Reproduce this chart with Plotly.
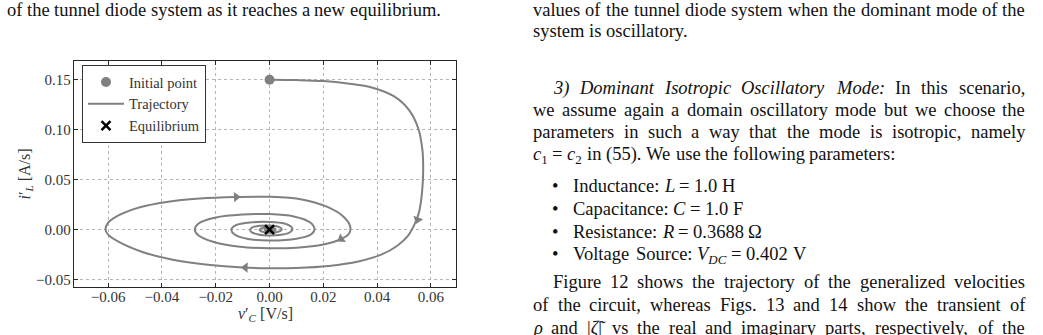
import math
import re
import plotly.graph_objects as go

# ---------------- data ----------------
traj_x = [0.0000, 0.0100, 0.0200, 0.0290, 0.0383, 0.0465, 0.0520, 0.0553, 0.0568, 0.0571,
          0.0567, 0.0556, 0.0540, 0.0515, 0.0475, 0.0415, 0.0330, 0.0220, 0.0100, 0.0000,
          -0.0100, -0.0230, -0.0360, -0.0470, -0.0555, -0.0600, -0.0610, -0.0600, -0.0560, -0.0482,
          -0.0383, -0.0260, -0.0124, 0.0000, 0.0120, 0.0215, 0.0275, 0.0300, 0.0295, 0.0266,
          0.0200, 0.0100, 0.0000, -0.0110, -0.0210, -0.0265, -0.0278, -0.0265, -0.0200, -0.0100,
          0.0000, 0.0090, 0.0150, 0.0167, 0.0155, 0.0100, 0.0000, -0.0080, -0.0130, -0.0142,
          -0.0125, -0.0065, 0.0000, 0.0055, 0.0082, 0.0084, 0.0070, 0.0035, 0.0000, -0.0042,
          -0.0068, -0.0072, -0.0062, -0.0032, 0.0000, 0.0030, 0.0044, 0.0044, 0.0035, 0.0017,
          0.0000, -0.0020, -0.0034, -0.0037, -0.0031, -0.0016, 0.0000, 0.0016, 0.0023, 0.0019,
          0.0009, 0.0000, -0.0012, -0.0019, -0.0014, 0.0000, 0.0010, 0.0011, 0.0005, 0.0000,
          -0.0008, 0.0000, 0.0003, 0.0000]
traj_y = [0.1500, 0.1496, 0.1486, 0.1462, 0.1420, 0.1330, 0.1190, 0.1010, 0.0800, 0.0595,
          0.0380, 0.0180, 0.0060, -0.0060, -0.0160, -0.0250, -0.0318, -0.0362, -0.0382, -0.0385,
          -0.0378, -0.0350, -0.0300, -0.0225, -0.0130, -0.0050, 0.0000, 0.0070, 0.0145, 0.0225,
          0.0278, 0.0312, 0.0327, 0.0329, 0.0303, 0.0228, 0.0130, 0.0030, -0.0040, -0.0093,
          -0.0148, -0.0180, -0.0186, -0.0170, -0.0120, -0.0055, 0.0000, 0.0060, 0.0122, 0.0152,
          0.0156, 0.0133, 0.0075, 0.0010, -0.0045, -0.0090, -0.0108, -0.0092, -0.0048, 0.0000,
          0.0045, 0.0074, 0.0078, 0.0062, 0.0025, -0.0005, -0.0035, -0.0054, -0.0058, -0.0048,
          -0.0022, 0.0000, 0.0025, 0.0040, 0.0042, 0.0032, 0.0012, -0.0005, -0.0018, -0.0028,
          -0.0030, -0.0025, -0.0012, 0.0000, 0.0013, 0.0021, 0.0022, 0.0016, 0.0004, -0.0008,
          -0.0014, -0.0016, -0.0011, 0.0000, 0.0009, 0.0011, 0.0006, -0.0002, -0.0007, -0.0007,
          0.0000, 0.0004, 0.0000, 0.0000]

initial_x = [0.0]
initial_y = [0.15]
equilibrium_x = [0.0]
equilibrium_y = [0.0]

arrow_x = [-0.0124, 0.0550, -0.0090, 0.0266]
arrow_y = [0.0327, 0.0100, -0.0378, -0.0093]

x_tick_vals = [-0.06, -0.04, -0.02, 0.00, 0.02, 0.04, 0.06]
x_tick_text = ["\u22120.06", "\u22120.04", "\u22120.02", "0.00", "0.02", "0.04", "0.06"]
y_tick_vals = [-0.05, 0.00, 0.05, 0.10, 0.15]
y_tick_text = ["\u22120.05", "0.00", "0.05", "0.10", "0.15"]

x_range = [-0.0727, 0.0693]
y_range = [-0.0573, 0.1687]

legend_names = ["Initial point", "Trajectory", "Equilibrium"]
x_title = "<i>v</i>\u2032<sub><i>C</i></sub> [V/s]"
y_title = "<i>i</i>\u2032<sub><i>L</i></sub> [A/s]"

# ---------------- layout geometry ----------------
FW, FH = 1043, 335
ML, MR, MT, MB = 74, 587, 61, 48
PW = FW - ML - MR
PH = FH - MT - MB

GRAY = "#808080"
SERIF = "Liberation Serif"

fig = go.Figure()

fig.add_trace(go.Scatter(
    x=traj_x, y=traj_y, mode="lines", name=legend_names[1],
    line=dict(color=GRAY, width=2, shape="spline", smoothing=1.0),
    legendrank=2, hoverinfo="skip"))

# arrow heads oriented along the trajectory
sx = PW / (x_range[1] - x_range[0])
sy = PH / (y_range[1] - y_range[0])
angles = []
for ax_, ay_ in zip(arrow_x, arrow_y):
    best, bi = 1e18, 0
    for i in range(len(traj_x) - 1):
        x1, y1 = traj_x[i] * sx, traj_y[i] * sy
        x2, y2 = traj_x[i + 1] * sx, traj_y[i + 1] * sy
        px, py = ax_ * sx, ay_ * sy
        dx, dy = x2 - x1, y2 - y1
        L2 = dx * dx + dy * dy
        t = 0 if L2 == 0 else max(0, min(1, ((px - x1) * dx + (py - y1) * dy) / L2))
        d = (x1 + t * dx - px) ** 2 + (y1 + t * dy - py) ** 2
        if d < best:
            best, bi = d, i
    dx = (traj_x[bi + 1] - traj_x[bi]) * sx
    dy = (traj_y[bi + 1] - traj_y[bi]) * sy
    angles.append(math.degrees(math.atan2(dx, dy)))

fig.add_trace(go.Scatter(
    x=arrow_x, y=arrow_y, mode="markers", showlegend=False, hoverinfo="skip",
    marker=dict(symbol="triangle-up", size=9, color=GRAY, angle=angles,
                line=dict(width=0))))

fig.add_trace(go.Scatter(
    x=initial_x, y=initial_y, mode="markers", name=legend_names[0],
    marker=dict(symbol="circle", size=10, color=GRAY), legendrank=1))

fig.add_trace(go.Scatter(
    x=equilibrium_x, y=equilibrium_y, mode="markers", name=legend_names[2],
    marker=dict(symbol="x-thin", size=9, color="black",
                line=dict(width=2.5, color="black")), legendrank=3))

axis_common = dict(
    showgrid=True, gridcolor="#b5b5b5", griddash="dot", gridwidth=1,
    zeroline=False, showline=True, linecolor="#262626", linewidth=1.4, mirror="ticks",
    ticks="inside", ticklen=4, tickwidth=1, tickcolor="#262626",
    tickfont=dict(family=SERIF, size=15, color="#333"),
)

fig.update_xaxes(range=x_range, tickvals=x_tick_vals, ticktext=x_tick_text,
                 ticklabelstandoff=-4, **axis_common)
fig.update_yaxes(range=y_range, tickvals=y_tick_vals, ticktext=y_tick_text,
                 ticklabelstandoff=-1,
                 title=dict(text=y_title,
                            font=dict(family=SERIF, size=16, color="#333"), standoff=1),
                 **axis_common)

fig.update_layout(
    width=FW, height=FH,
    margin=dict(l=ML, r=MR, t=MT, b=MB, pad=0),
    paper_bgcolor="white", plot_bgcolor="white",
    showlegend=True,
    legend=dict(x=(82 - ML) / PW, y=(FH - MB - 65) / PH, xanchor="left", yanchor="top",
                bgcolor="white", bordercolor="#333", borderwidth=1,
                font=dict(family=SERIF, size=14.5, color="#333"),
                itemwidth=36, tracegroupgap=0),
)

# ---------------- surrounding page text ----------------
FS = 18.5
ROMAN = {' ': 250, '!': 333, '(': 333, ')': 333, ',': 250, '-': 333, '.': 250, '/': 278,
         ':': 278, ';': 278, '=': 564, '|': 200, '\u2022': 350, '\u03a9': 768,
         '\u03c1': 500, '\u03b6': 440, '\u0303': 0, '[': 333, ']': 333, '\u2032': 250,
         'A': 722, 'B': 667, 'C': 667, 'D': 722, 'E': 611, 'F': 556, 'G': 722, 'H': 722,
         'I': 333, 'J': 389, 'K': 722, 'L': 611, 'M': 889, 'N': 722, 'O': 722, 'P': 556,
         'Q': 722, 'R': 667, 'S': 556, 'T': 611, 'U': 722, 'V': 722, 'W': 944, 'X': 722,
         'Y': 722, 'Z': 611,
         'a': 444, 'b': 500, 'c': 444, 'd': 500, 'e': 444, 'f': 333, 'g': 500, 'h': 500,
         'i': 278, 'j': 278, 'k': 500, 'l': 278, 'm': 778, 'n': 500, 'o': 500, 'p': 500,
         'q': 500, 'r': 333, 's': 389, 't': 278, 'u': 500, 'v': 500, 'w': 722, 'x': 500,
         'y': 500, 'z': 444}
for d in "0123456789":
    ROMAN[d] = 500
ITALIC = dict(ROMAN)
ITALIC.update({'a': 500, 'f': 278, 'm': 722, 'r': 389, 'y': 444, 'M': 833, 'L': 556,
               'R': 611, 'V': 611, ':': 333, 'C': 667, 'D': 722})


def text_width(s, fs=FS):
    w, ital, sub = 0.0, False, False
    for tok in re.split(r"(<[^>]+>)", s):
        if tok.startswith("<"):
            t = tok.lower()
            if t == "<i>":
                ital = True
            elif t == "</i>":
                ital = False
            elif t == "<sub>":
                sub = True
            elif t == "</sub>":
                sub = False
            continue
        table = ITALIC if ital else ROMAN
        for ch in tok:
            w += table.get(ch, 500) * (0.7 if sub else 1.0)
    return w * fs / 1000.0


def paper_x(px):
    return (px - ML) / PW


def paper_y(py):
    return (FH - MB - py) / PH


def add_text_line(line, x0, x1, baseline, justify):
    words = line.split(" ")
    widths = [text_width(w) for w in words]
    if justify and len(words) > 1:
        gap = (x1 - x0 - sum(widths)) / (len(words) - 1)
    else:
        gap = ROMAN[' '] * FS / 1000.0
    x = x0
    top = baseline - 0.891 * FS
    for w, wd in zip(words, widths):
        fig.add_annotation(text=w, x=paper_x(x), y=paper_y(top), xref="paper", yref="paper",
                           xanchor="left", yanchor="top", showarrow=False,
                           borderpad=0, borderwidth=0,
                           font=dict(family=SERIF, size=FS, color="#111"))
        x += wd + gap


# x-axis title placed just under the tick labels
fig.add_annotation(text=x_title, x=0.5, y=paper_y(319 - 0.891 * 16), xref="paper", yref="paper",
                   xanchor="center", yanchor="top", showarrow=False, borderpad=0, borderwidth=0,
                   font=dict(family=SERIF, size=16, color="#333"))

COL_L, COL_R = 533, 1025
IND = 552.5
BUL_T = 573

page_lines = [
    ("of the tunnel diode system as it reaches a new equilibrium.", 6.7, 445, 16, False),
    ("values of the tunnel diode system when the dominant mode of the", COL_L, COL_R, 16, True),
    ("system is oscillatory.", COL_L, COL_R, 37.5, False),
    ("<i>3)</i> <i>Dominant</i> <i>Isotropic</i> <i>Oscillatory</i> <i>Mode:</i> In this scenario,",
     IND, COL_R, 94, True),
    ("we assume again a domain oscillatory mode but we choose the", COL_L, COL_R, 116, True),
    ("parameters in such a way that the mode is isotropic, namely", COL_L, COL_R, 138, True),
    ("<i>c</i><sub>1</sub> = <i>c</i><sub>2</sub> in (55). We use the following parameters:",
     COL_L, COL_R, 160, False),
    ("Inductance: <i>L</i> = 1.0 H", BUL_T, COL_R, 192, False),
    ("Capacitance: <i>C</i> = 1.0 F", BUL_T, COL_R, 215, False),
    ("Resistance: <i>R</i> = 0.3688 \u03a9", BUL_T, COL_R, 238, False),
    ("Voltage Source: <i>V</i><sub><i>DC</i></sub> = 0.402 V", BUL_T, COL_R, 260.5, False),
    ("Figure 12 shows the trajectory of the generalized velocities", IND, COL_R, 288, True),
    ("of the circuit, whereas Figs. 13 and 14 show the transient of", COL_L, COL_R, 311, True),
    ("<i>\u03c1</i> and |<i>\u03b6\u0303</i>| vs the real and imaginary parts, respectively, of the",
     COL_L, COL_R, 334, True),
]
for txt, a, b, base, just in page_lines:
    add_text_line(txt, a, b, base, just)

for base in [192, 215, 238, 260.5]:
    add_text_line("\u2022", 552, 560, base, False)

fig.write_html("out.html")
